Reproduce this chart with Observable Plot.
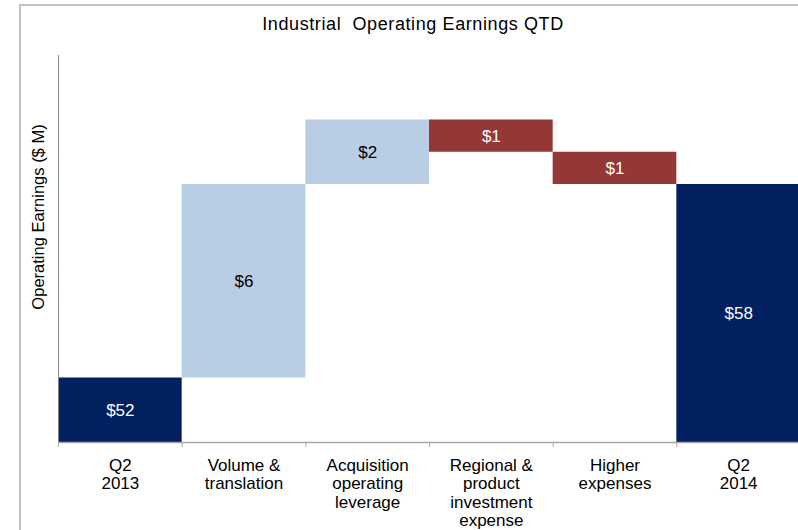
<!DOCTYPE html>
<html>
<head>
<meta charset="utf-8">
<script src="https://cdn.jsdelivr.net/npm/d3@7"></script>
<script src="https://cdn.jsdelivr.net/npm/@observablehq/plot@0.6"></script>
<style>
  html, body { margin: 0; padding: 0; background: #fff; }
  #wrap { position: relative; width: 798px; height: 530px; overflow: hidden; font-family: "Liberation Sans", Arial, sans-serif; }
  #frame { position: absolute; left: 19px; top: 4px; width: 800px; height: 540px; border-top: 2px solid #c3c3c3; border-left: 2px solid #c3c3c3; }
  #title { position: absolute; left: 0; width: 826px; top: 14px; text-align: center; font-size: 18px; letter-spacing: 0.6px; color: #000; }
  #ylabel { position: absolute; left: 38px; top: 217px; transform: translate(-50%, -50%) rotate(-90deg); white-space: nowrap; font-size: 16.5px; color: #000; }
  #chart { position: absolute; left: 0; top: 0; }
</style>
</head>
<body>
<div id="wrap">
  <div id="frame"></div>
  <div id="chart"></div>
  <div id="title">Industrial&nbsp; Operating Earnings QTD</div>
  <div id="ylabel">Operating Earnings ($ M)</div>
</div>
<script>
const categories = ["Q2\n2013", "Volume &\ntranslation", "Acquisition\noperating\nleverage", "Regional &\nproduct\ninvestment\nexpense", "Higher\nexpenses", "Q2\n2014"];
const values = [52, 6, 2, -1, -1, 58];
const kinds = ["total", "up", "up", "down", "down", "total"];
const valueLabels = ["$52", "$6", "$2", "$1", "$1", "$58"];

const colors = { total: "#002060", up: "#b9cde5", down: "#953735" };
const textColors = { total: "#ffffff", up: "#000000", down: "#ffffff" };

let running = 0;
const rows = categories.map((c, i) => {
  let y1, y2;
  if (kinds[i] === "total") { y1 = 50; y2 = values[i]; running = values[i]; }
  else { y1 = running; y2 = running + values[i]; running = y2; }
  return { i, c, y1, y2, kind: kinds[i], label: valueLabels[i], mid: (y1 + y2) / 2 };
});

const chart = Plot.plot({
  width: 798,
  height: 530,
  marginTop: 55,
  marginBottom: 88,
  marginLeft: 58,
  marginRight: 0,
  style: { fontFamily: "Liberation Sans, Arial, sans-serif", background: "transparent", overflow: "visible" },
  x: { domain: [0, 6], range: [58, 800], axis: null },
  y: { domain: [50, 62], axis: null },
  marks: [
    Plot.rect(rows, { x1: "i", x2: d => d.i + 1, y1: "y1", y2: "y2", fill: d => colors[d.kind] }),
    Plot.text(rows, { x: d => d.i + 0.5, y: "mid", text: "label", fill: d => textColors[d.kind], fontSize: 17 }),
    Plot.ruleY([50], { stroke: "#a6a6a6", strokeWidth: 1.5 }),
    Plot.ruleX([0], { stroke: "#868686", strokeWidth: 1 }),
    Plot.axisX({ ticks: [0, 1, 2, 3, 4, 5], tickSize: 5, tickFormat: () => "", stroke: "#a6a6a6", label: null }),
    Plot.axisX({ ticks: [0.5, 1.5, 2.5, 3.5, 4.5, 5.5], tickSize: 0, tickPadding: 15, tickFormat: v => categories[Math.floor(v)], fontSize: 17, lineHeight: 1.09, fill: "#000", label: null })
  ]
});
document.getElementById("chart").appendChild(chart);
</script>
</body>
</html>
